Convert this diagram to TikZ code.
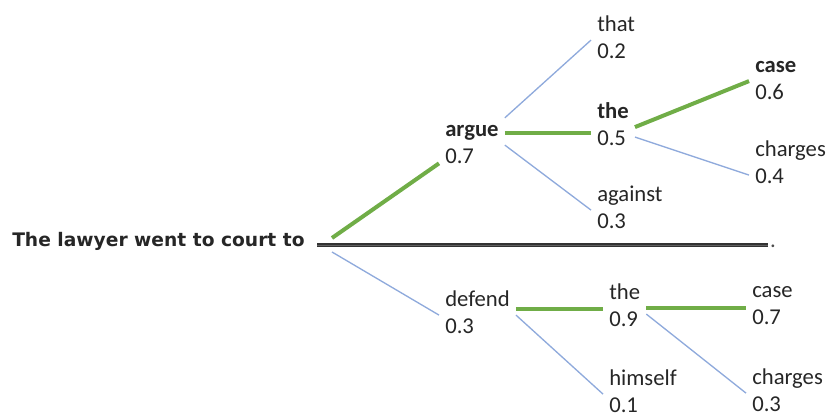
\documentclass[tikz,border=0pt]{standalone}
\usepackage{fontspec}
\setmainfont{Carlito}
\newfontfamily\rootfont{DejaVu Sans}
\definecolor{best}{HTML}{70AD47}
\definecolor{other}{HTML}{8FAADC}
\definecolor{ink}{HTML}{262626}
\newcommand{\wordprob}[2]{\begin{tabular}[t]{@{}l@{}}#1\\#2\end{tabular}}
\tikzset{
  every picture/.style={line join=round, line cap=butt},
  word/.style={anchor=base west, inner xsep=4.5pt, inner ysep=0pt, text=ink, font=\fontsize{17}{20.25}\selectfont},
  pick/.style={draw=best, line width=3pt},
  alt/.style={draw=other, line width=1pt},
  sentence/.style={draw=black!80, double=black!62, double distance=0.6pt, line width=1pt},
}

\begin{document}
\begin{tikzpicture}[x=0.75pt,y=-0.75pt]
\useasboundingbox (0,0) rectangle (839,416);
\node[word,inner xsep=0pt,font=\rootfont\bfseries\fontsize{14}{17}\selectfont] (root) at (12,247) {The lawyer went to court to};
\coordinate (fork) at (332,245);
\node[word,inner xsep=0pt,anchor=base,text=black!70] (stop) at (773,248) {.};
\node[word] (argue) at (439,137) {\wordprob{\textbf{argue}}{0.7}};
\node[word] (that) at (591,32) {\wordprob{that}{0.2}};
\node[word] (the) at (591,119) {\wordprob{\textbf{the}}{0.5}};
\node[word] (against) at (591,202) {\wordprob{against}{0.3}};
\node[word] (case) at (749,73) {\wordprob{\textbf{case}}{0.6}};
\node[word] (charges) at (749,157) {\wordprob{charges}{0.4}};
\node[word] (defend) at (439,307) {\wordprob{defend}{0.3}};
\node[word] (the2) at (603,300) {\wordprob{the}{0.9}};
\node[word] (himself) at (603,386) {\wordprob{himself}{0.1}};
\node[word] (case2) at (746,298) {\wordprob{case}{0.7}};
\node[word] (charges2) at (746,385) {\wordprob{charges}{0.3}};

\draw[sentence] ([xshift=-11.25pt]fork) -- ([xshift=-1.5pt]stop.west |- fork);

\draw[pick] ([yshift=5.25pt]fork) -- ([yshift=6.75pt]argue.south west);
\draw[alt] ([yshift=-5.25pt]fork) -- (defend.west);

\draw[alt] (argue.north east) -- (that.west);
\draw[pick] ([yshift=9pt]argue.east) coordinate (p) -- (p -| the.west);
\draw[alt] (argue.east) -- (against.west);
\draw[pick] (the.east) -- (case.west);
\draw[alt] ([yshift=-7.5pt]the.east) -- ([yshift=-7.5pt]charges.west);

\draw[pick] ([yshift=4.5pt]defend.east) coordinate (q) -- (q -| the2.west);
\draw[alt] (defend.east) -- (himself.west);
\draw[pick] (the2.east) coordinate (r) -- (r -| case2.west);
\draw[alt] ([yshift=-4.5pt]the2.east) -- (charges2.west);
\end{tikzpicture}
\end{document}
